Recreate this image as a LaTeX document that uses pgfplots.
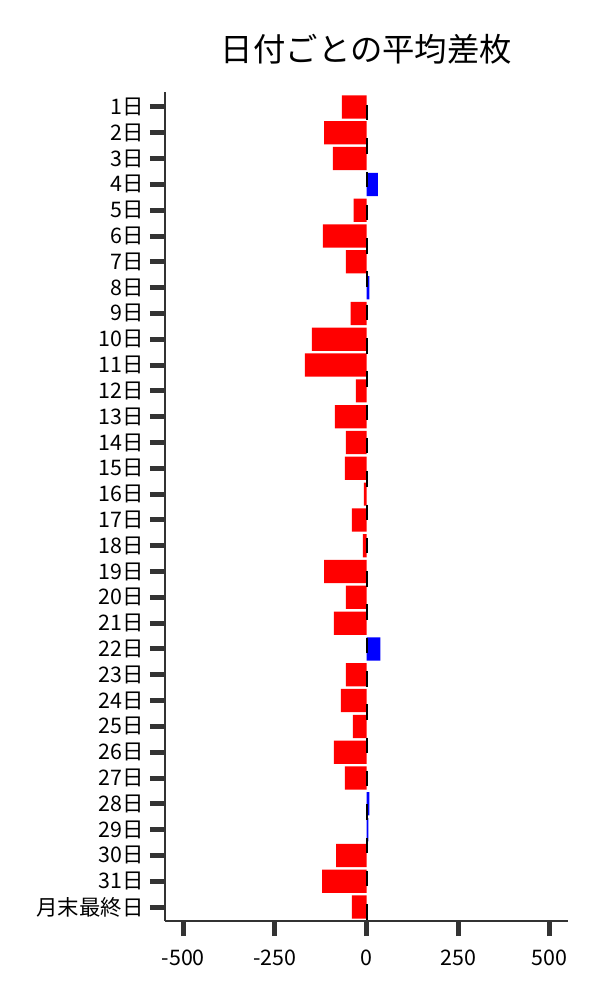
\documentclass[border=0pt]{standalone}
\usepackage{fontspec}
\setmainfont{Noto Sans CJK JP}
\usepackage{pgfplots}
\pgfplotsset{compat=1.18}
\definecolor{spine}{HTML}{333333}
\begin{document}
\begin{tikzpicture}
\useasboundingbox (0,0) rectangle (600bp,1000bp);
\begin{axis}[
  at={(165bp,79bp)}, anchor=south west,
  scale only axis, width=403bp, height=829bp,
  xmin=-550, xmax=550, ymin=-0.58, ymax=31.54,
  y dir=reverse, enlargelimits=false,
  axis x line*=bottom, axis y line*=left,
  axis line style={-, spine, line width=1.2bp},
  xtick={-500,-250,0,250,500},
  xticklabels={-500,-250,0,250,500},
  ytick={0,...,31},
  yticklabels={1日,2日,3日,4日,5日,6日,7日,8日,9日,10日,11日,12日,13日,14日,15日,16日,17日,18日,19日,20日,21日,22日,23日,24日,25日,26日,27日,28日,29日,30日,31日,月末最終日},
  tick align=outside, major tick length=15bp,
  tick style={line width=5bp, spine, line cap=butt},
  ticklabel style={font=\fontsize{21.5}{21.5}\selectfont},
  yticklabel style={xshift=-3bp},
  xticklabel style={yshift=-10bp},
  title={日付ごとの平均差枚},
  title style={at={(0.5,1)}, anchor=center, yshift=37bp, font=\fontsize{32.5}{32.5}\selectfont},
]
\addplot[xbar, bar width=0.9, bar shift=0pt, draw=none, fill=red] coordinates {
  (-67,0) (-116,1) (-92,2) (-35,4) (-119,5) (-56,6) (-43,8) (-149,9)
  (-168,10) (-29,11) (-86,12) (-56,13) (-59,14) (-7,15) (-40,16) (-10,17)
  (-116,18) (-56,19) (-89,20) (-56,22) (-70,23) (-37,24) (-89,25) (-59,26)
  (-83,29) (-121,30) (-40,31)
};
\addplot[xbar, bar width=0.9, bar shift=0pt, draw=none, fill=blue] coordinates {
  (31,3) (8,7) (38,21) (8,27) (5,28)
};
\draw[black, line width=2bp, dash pattern=on 15.5bp off 17.8bp]
  (axis cs:0,-0.08) -- (axis cs:0,31.54);
\end{axis}
\end{tikzpicture}
\end{document}
